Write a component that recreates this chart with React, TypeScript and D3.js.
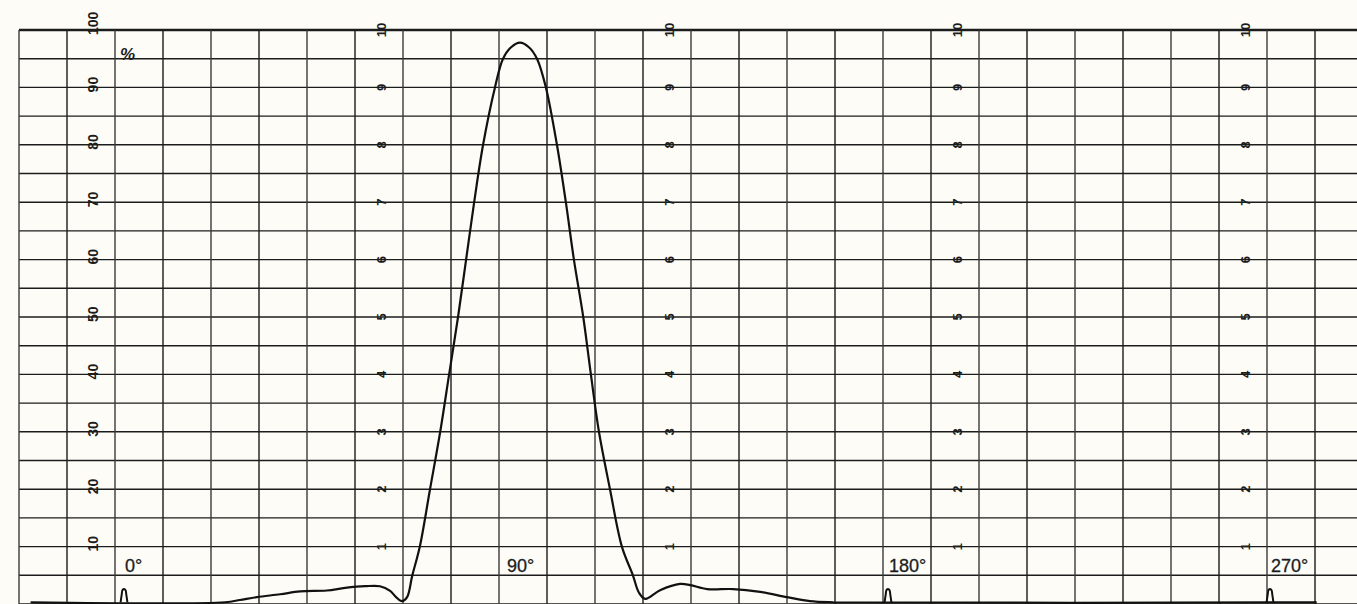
import React from 'react';
import * as d3 from 'd3';

// chart recorder trace, angle (deg) vs percent
const traceAngles = [
  -22, 23.8, 27.3, 31.3, 36.8, 41.5, 47.8, 52.1, 56.8, 60.3, 62.7, 64.1, 65.5, 66.7,
  67.9, 69.7, 72.1, 74.5, 76.6, 78.7, 80.6, 82.5, 84.6, 87.4, 89.3, 91.2, 93.3, 95.4,
  97.3, 99.4, 102.0, 104.1, 106.0, 108.2, 110.0, 111.9, 114.5, 117.3, 119.9, 121.3,
  122.8, 126.3, 131.0, 133.4, 137.4, 143.5, 149.9, 156.2, 161.6, 167.1, 281,
];
const traceValues = [
  0.3, 0.3, 0.7, 1.2, 1.7, 2.2, 2.35, 2.8, 3.1, 3.1, 2.3, 1.2, 0.5, 1.2,
  4.9, 10, 20, 30, 40, 50, 60, 70, 80, 90, 95, 97, 97.8, 97,
  95, 90, 80, 70, 60, 50, 40, 30, 20, 10, 5, 2,
  0.9, 2.4, 3.5, 3.3, 2.6, 2.6, 2.1, 1.2, 0.5, 0.3, 0.3,
];

// reference pulses written by the recorder
const markerAngles = [0, 180, 270];
const pulseOffsets = [-0.8, -0.55, -0.3, 0.3, 0.55, 0.8];
const pulseValues = [0.3, 1.6, 2.5, 2.5, 1.6, 0.3];

const degreeLabels = [0, 90, 180, 270];
const percentTicks = [10, 20, 30, 40, 50, 60, 70, 80, 90, 100];
const scaleTicks = [1, 2, 3, 4, 5, 6, 7, 8, 9, 10];
const percentColumn = 1.5;
const scaleColumns = [7.5, 13.5, 19.5, 25.5];

const W = 1357;
const H = 604;
const INK = '#1c1c1c';
const FONT = '"Liberation Sans", Arial, sans-serif';

export default function App() {
  const x = d3.scaleLinear().domain([0, 270]).range([124, 1270]);
  const y = d3.scaleLinear().domain([0, 100]).range([604, 30]);
  // paper divisions (independent of the angle axis)
  const paperX = d3.scaleLinear().domain([0, 28]).range([19, 19 + 48 * 28]);

  const cols = d3.range(0, 29);
  const rows = d3.range(0, 101, 5);

  const trace = traceAngles.map((a, i) => [a, traceValues[i]] as [number, number]);
  const line = d3
    .line<[number, number]>()
    .x(d => x(d[0]))
    .y(d => y(d[1]))
    .curve(d3.curveCatmullRom.alpha(0.5));

  return (
    <div style={{ position: 'fixed', left: 0, top: 0 }}>
      <svg width={W} height={H} style={{ display: 'block', background: '#fdfcf7' }}>
        {/* grid */}
        <g stroke={INK} strokeWidth={1.4}>
          {rows.map(r => (
            <line key={'h' + r} x1={paperX(0)} x2={W} y1={y(r)} y2={y(r)}
              strokeWidth={r === 100 ? 2.6 : 1.4} />
          ))}
          {cols.map(c => (
            <line key={'v' + c} x1={paperX(c)} x2={paperX(c)} y1={y(100)} y2={H}
              stroke={c % 2 === 0 ? '#3a3a3a' : INK} />
          ))}
        </g>

        {/* percent scale */}
        <g fill={INK} fontFamily={FONT} fontWeight="bold" fontSize={14}>
          {percentTicks.map(t => (
            <text key={'p' + t} transform={`translate(${paperX(percentColumn) + 7},${y(t) + 5}) rotate(-90)`}
              textAnchor="start">
              {t}
            </text>
          ))}
        </g>
        <g fill={INK} fontFamily={FONT} fontWeight="bold" fontSize={13}>
          {scaleColumns.map(c =>
            scaleTicks.map(t => (
              <text key={c + '-' + t} transform={`translate(${paperX(c) + 2},${y(t * 10)}) rotate(-90)`}
                textAnchor="middle" dominantBaseline="central">
                {t}
              </text>
            ))
          )}
        </g>
        <text x={paperX(2) + 5} y={y(94.7)} fill={INK} fontFamily={FONT} fontWeight="bold" fontSize={17}
          fontStyle="italic">
          %
        </text>

        {/* angle labels */}
        <g fill={INK} fontFamily={FONT} fontSize={18}>
          {degreeLabels.map(a => (
            <text key={'d' + a} x={x(a) + 1} y={y(5.6)} stroke={INK} strokeWidth={0.3}>
              {a}°
            </text>
          ))}
        </g>

        {/* recorder trace */}
        <path d={line(trace) || ''} fill="none" stroke="#111" strokeWidth={2.2} strokeLinejoin="round" />
        {markerAngles.map(a => (
          <path key={'m' + a}
            d={line(pulseOffsets.map((o, i) => [a + o, pulseValues[i]] as [number, number])) || ''}
            fill="none" stroke="#111" strokeWidth={2} />
        ))}
      </svg>
    </div>
  );
}
